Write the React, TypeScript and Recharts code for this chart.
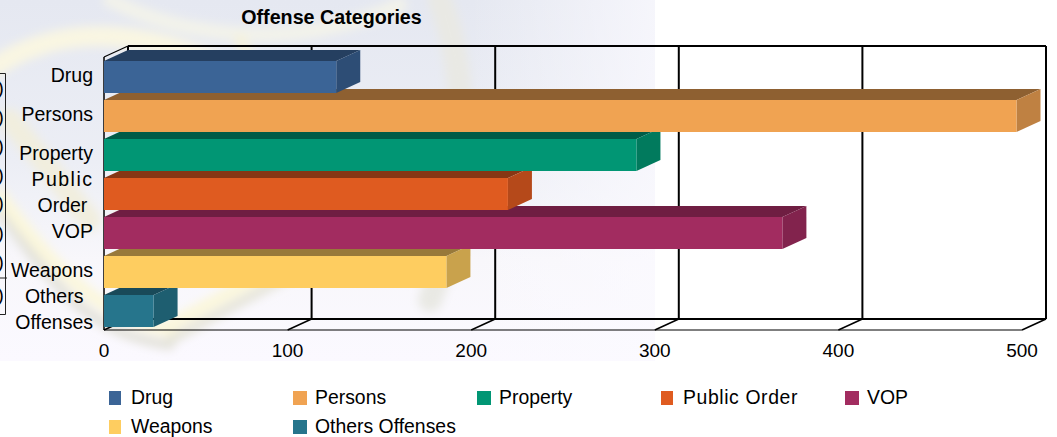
import { BarChart, Bar, XAxis, YAxis, CartesianGrid, Legend } from 'recharts';

const categories = ['Drug', 'Persons', 'Property', 'Public Order', 'VOP', 'Weapons', 'Others Offenses'];
const offenseCounts = [126.5, 497, 290, 220, 369.5, 186.5, 27];
const frontColors = ['#3b6496', '#f0a352', '#019674', '#df5b20', '#a22c60', '#fecd60', '#26758c'];
const topColors = ['#253f60', '#8e6031', '#015c47', '#863714', '#6f1e42', '#98793a', '#194a59'];
const sideColors = ['#2d4d75', '#bf8142', '#017a5d', '#b5491a', '#82234d', '#c9a24c', '#1e5e70'];
const xTicks = [0, 100, 200, 300, 400, 500];
const hiddenRowMarks = [88, 117, 146, 175, 203, 233, 262, 295];

const FONT = '"Liberation Sans", Arial, sans-serif';
const DEPTH_X = 24;
const DEPTH_Y = -11;
const PLOT_TOP = 57;
const PLOT_BOTTOM = 330;

// last category goes first so that upper bars paint over the top face of the next one
const chartData = categories
  .map((name, i) => ({ name, value: offenseCounts[i], colorIndex: i }))
  .reverse();

const measure = document.createElement('canvas').getContext('2d')!;
const textWidth = (s: string) => {
  measure.font = `19.5px ${FONT}`;
  return measure.measureText(s).width;
};

// 3D box: front rectangle, top face, side face
const BoxBar = (props: any) => {
  const { x, y, width, height, payload } = props;
  const i = payload.colorIndex;
  const r = x + width;
  const b = y + height;
  return (
    <g>
      <polygon
        points={`${x},${y} ${x + DEPTH_X},${y + DEPTH_Y} ${r + DEPTH_X},${y + DEPTH_Y} ${r},${y}`}
        fill={topColors[i]}
      />
      <polygon
        points={`${r},${y} ${r + DEPTH_X},${y + DEPTH_Y} ${r + DEPTH_X},${b + DEPTH_Y} ${r},${b}`}
        fill={sideColors[i]}
      />
      <rect x={x} y={y} width={width} height={height} fill={frontColors[i]} />
    </g>
  );
};

// grid line on the back wall plus the short diagonal on the floor
const WallLine = (props: any) => {
  const { x1 } = props;
  return (
    <g stroke="#000" fill="none">
      <line x1={x1 + DEPTH_X} y1={PLOT_TOP + DEPTH_Y} x2={x1 + DEPTH_X} y2={PLOT_BOTTOM + DEPTH_Y} strokeWidth={2} />
      <line x1={x1} y1={PLOT_BOTTOM} x2={x1 + DEPTH_X} y2={PLOT_BOTTOM + DEPTH_Y} strokeWidth={1.5} />
    </g>
  );
};

// top and floor edges of the box, hung on the two horizontal grid lines
const FrameLine = (props: any) => {
  const { x1, x2, y1 } = props;
  if (y1 === PLOT_TOP) {
    return (
      <g stroke="#000" fill="none">
        <line x1={x1 + DEPTH_X} y1={y1 + DEPTH_Y} x2={x2 + DEPTH_X} y2={y1 + DEPTH_Y} strokeWidth={2} />
        <line x1={x1} y1={y1} x2={x1 + DEPTH_X} y2={y1 + DEPTH_Y} strokeWidth={1.2} />
        <line x1={x1} y1={PLOT_TOP} x2={x1} y2={PLOT_BOTTOM} strokeWidth={1.5} />
      </g>
    );
  }
  return (
    <g stroke="#000" fill="none">
      <line x1={x1 + DEPTH_X} y1={y1 + DEPTH_Y} x2={x2 + DEPTH_X} y2={y1 + DEPTH_Y} strokeWidth={2} />
      <line x1={x1} y1={y1} x2={x2} y2={y1} strokeWidth={1.2} />
    </g>
  );
};

const CategoryTick = (props: any) => {
  const { x, y, payload } = props;
  const lines: string[] = payload.value.split(' ');
  const right = x - 3;
  if (lines.length === 1) {
    return (
      <text x={right} y={y + 5.5} textAnchor="end" fontSize={19.5} fontFamily={FONT} fill="#000">
        {lines[0]}
      </text>
    );
  }
  const widest = Math.max(...lines.map(textWidth));
  const spaced = payload.value === 'Public Order';
  return (
    <g>
      {lines.map((line, i) => (
        <text
          key={line}
          x={right - (spaced ? widest + 8 : widest) / 2}
          y={y + 5.5 + (i - 0.5) * 25.5}
          textAnchor="middle"
          fontSize={19.5}
          fontFamily={FONT}
          fill="#000"
          letterSpacing={spaced && i === 0 ? 1.5 : 0}
        >
          {line}
        </text>
      ))}
    </g>
  );
};

const OffenseLegend = () => (
  <div style={{ position: 'relative', height: 53, fontFamily: FONT, fontSize: 19.4, color: '#000' }}>
    {categories.map((name, i) => {
      const left = 109 + (i % 5) * 184;
      const top = i < 5 ? 7 : 35.5;
      return (
        <div key={name} style={{ position: 'absolute', left, top, whiteSpace: 'nowrap' }}>
          <span
            style={{ position: 'absolute', left: 0, top: 0, width: i % 5 === 0 || i % 5 === 3 ? 12 : 14, height: 14, background: frontColors[i] }}
          />
          <span
            style={{ position: 'absolute', left: 22, top: -6, lineHeight: '24px', letterSpacing: name === 'Public Order' ? 0.6 : 0 }}
          >
            {name}
          </span>
        </div>
      );
    })}
  </div>
);

// washed out seal behind the chart, only a rough impression of the original picture
const Watermark = () => (
  <svg width={1057} height={437} style={{ position: 'absolute', left: 0, top: 0 }}>
    <defs>
      <linearGradient id="wash" x1="0" y1="0" x2="0" y2="1">
        <stop offset="0" stopColor="#e5e8f1" />
        <stop offset="0.45" stopColor="#eceef5" />
        <stop offset="0.72" stopColor="#f8f7fb" />
        <stop offset="1" stopColor="#fbf9ff" />
      </linearGradient>
      <linearGradient id="fade" x1="0" y1="0" x2="1" y2="0">
        <stop offset="0" stopColor="#fbfaff" stopOpacity={0} />
        <stop offset="1" stopColor="#fbfaff" stopOpacity={0.75} />
      </linearGradient>
      <filter id="soft"><feGaussianBlur stdDeviation="5" /></filter>
    </defs>
    <rect x={0} y={0} width={655} height={361} fill="url(#wash)" />
    <g filter="url(#soft)" fill="none" strokeLinecap="round">
      <path d="M-10 70 C60 20 150 30 230 70" stroke="#f9f6e2" strokeWidth={20} />
      <path d="M110 0 C190 40 300 50 400 5" stroke="#f3f3ea" strokeWidth={14} />
      <path d="M240 40 L320 200" stroke="#f4f1dc" strokeWidth={12} />
      <path d="M440 0 C470 80 470 200 430 300" stroke="#e9e9e4" strokeWidth={24} />
      <path d="M10 120 L90 220" stroke="#f1eede" strokeWidth={22} />
      <path d="M0 210 C60 300 100 335 170 345" stroke="#e3e2da" strokeWidth={10} />
      <path d="M0 195 C60 280 110 320 170 330" stroke="#fbf7dc" strokeWidth={13} />
      <path d="M170 340 L300 270" stroke="#e6e5da" strokeWidth={10} />
      <path d="M170 325 L300 255" stroke="#fbf7dc" strokeWidth={13} />
      <path d="M120 210 C200 240 300 220 400 170" stroke="#f5f2dc" strokeWidth={12} />
    </g>
    <rect x={470} y={0} width={185} height={361} fill="url(#fade)" />
    <g fontFamily={FONT} fontSize={19} fill="#000">
      {hiddenRowMarks.map((y) => (
        <text key={y} x={-2.5} y={y + 6}>)</text>
      ))}
    </g>
    <path d="M0 73.5 H5.5 V314.5 H0" fill="none" stroke="#222" />
    <path d="M0 278 H7" fill="none" stroke="#222" />
  </svg>
);

export default function App() {
  return (
    <div style={{ position: 'absolute', left: 0, top: 0, width: 1057, height: 437, overflow: 'hidden', background: '#fff' }}>
      <Watermark />
      <BarChart
        width={1057}
        height={437}
        data={chartData}
        layout="vertical"
        margin={{ top: PLOT_TOP, right: 35, bottom: 14, left: 0 }}
        style={{ position: 'absolute', left: 0, top: 0 }}
      >
        <text x={331.5} y={24} textAnchor="middle" fontSize={19.7} fontWeight="bold" fontFamily={FONT} fill="#000">
          Offense Categories
        </text>
        <CartesianGrid
          vertical={<WallLine />}
          horizontal={<FrameLine />}
          horizontalPoints={[PLOT_TOP, PLOT_BOTTOM]}
        />
        <XAxis
          type="number"
          domain={[0, 500]}
          ticks={xTicks}
          axisLine={false}
          tickLine={false}
          height={40}
          tickMargin={8}
          tick={{ fontSize: 19, fontFamily: FONT, fill: '#000' }}
        />
        <YAxis
          type="category"
          dataKey="name"
          reversed
          width={104}
          axisLine={false}
          tickLine={false}
          interval={0}
          tick={<CategoryTick />}
        />
        <Bar dataKey="value" barSize={32} isAnimationActive={false} shape={<BoxBar />} />
        <Legend
          content={<OffenseLegend />}
          wrapperStyle={{ position: 'absolute', left: 0, top: 384, width: 1057 }}
        />
      </BarChart>
    </div>
  );
}
